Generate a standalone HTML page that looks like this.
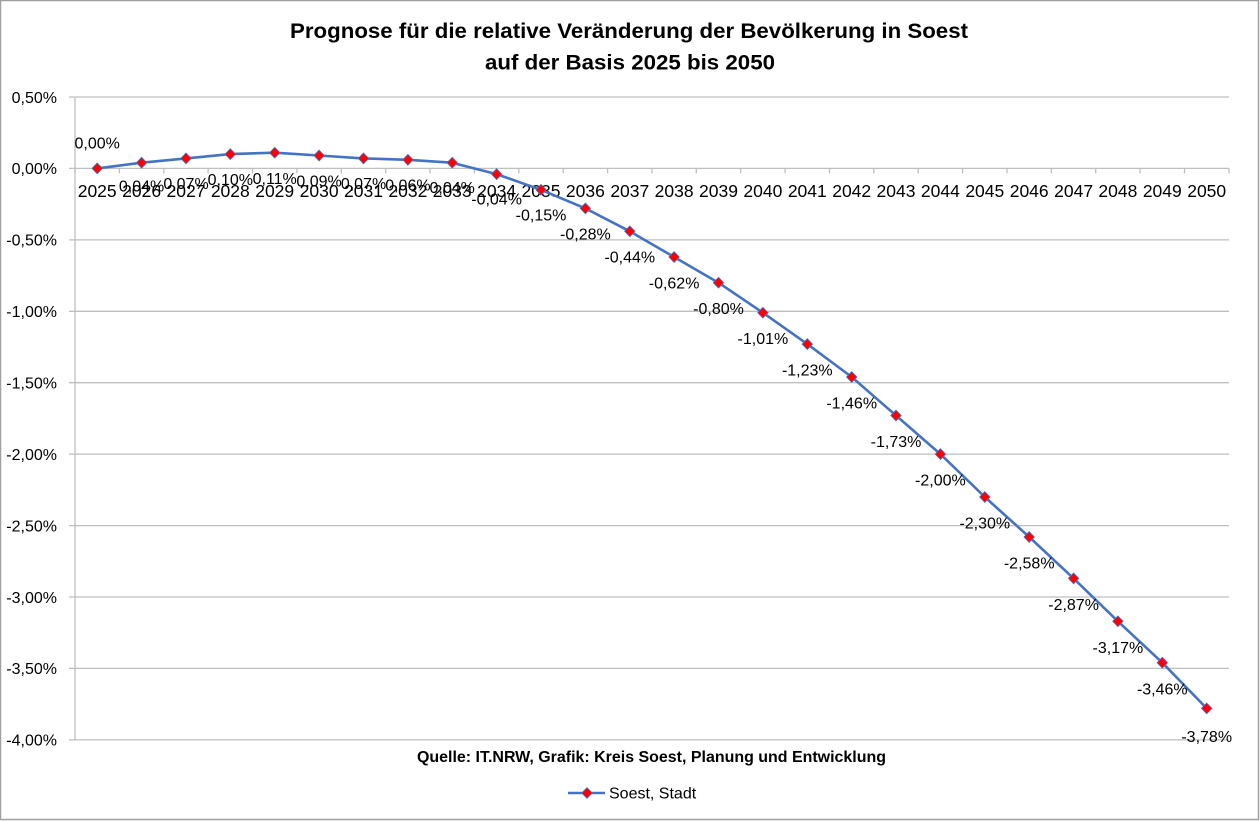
<!DOCTYPE html>
<html><head><meta charset="utf-8"><style>
html,body{margin:0;padding:0;background:#fff;}
svg{display:block;}
text{font-family:"Liberation Sans",Arial,sans-serif;fill:#000;}
</style></head><body>
<svg width="1260" height="821" viewBox="0 0 1260 821" xmlns="http://www.w3.org/2000/svg">
<rect x="0.5" y="0.5" width="1258" height="819" fill="#fff" stroke="#a0a0a0" stroke-width="1.5"/>
<text x="629" y="38" font-size="21" font-weight="bold" text-anchor="middle" textLength="678" lengthAdjust="spacingAndGlyphs">Prognose für die relative Veränderung der Bevölkerung in Soest</text>
<text x="630" y="69.5" font-size="21" font-weight="bold" text-anchor="middle" textLength="290" lengthAdjust="spacingAndGlyphs">auf der Basis 2025 bis 2050</text>
<g stroke="#bfbfbf" stroke-width="1.3" fill="none">
<line x1="69" y1="97" x2="1229" y2="97"/>
<line x1="69" y1="168.4" x2="1229" y2="168.4"/>
<line x1="69" y1="239.9" x2="1229" y2="239.9"/>
<line x1="69" y1="311.3" x2="1229" y2="311.3"/>
<line x1="69" y1="382.7" x2="1229" y2="382.7"/>
<line x1="69" y1="454.1" x2="1229" y2="454.1"/>
<line x1="69" y1="525.6" x2="1229" y2="525.6"/>
<line x1="69" y1="597" x2="1229" y2="597"/>
<line x1="69" y1="668.4" x2="1229" y2="668.4"/>
<line x1="69" y1="739.9" x2="1229" y2="739.9"/>
<line x1="75" y1="97" x2="75" y2="740"/>
<path d="M75 168.4v5M119.4 168.4v5M163.8 168.4v5M208.1 168.4v5M252.5 168.4v5M296.9 168.4v5M341.3 168.4v5M385.7 168.4v5M430 168.4v5M474.4 168.4v5M518.8 168.4v5M563.2 168.4v5M607.6 168.4v5M651.9 168.4v5M696.3 168.4v5M740.7 168.4v5M785.1 168.4v5M829.5 168.4v5M873.8 168.4v5M918.2 168.4v5M962.6 168.4v5M1007 168.4v5M1051.4 168.4v5M1095.7 168.4v5M1140.1 168.4v5M1184.5 168.4v5M1229 168.4v5"/>
</g>
<g font-size="16" text-anchor="end">
<text x="57" y="102.8">0,50%</text>
<text x="57" y="174.2">0,00%</text>
<text x="57" y="245.7">-0,50%</text>
<text x="57" y="317.1">-1,00%</text>
<text x="57" y="388.5">-1,50%</text>
<text x="57" y="459.9">-2,00%</text>
<text x="57" y="531.4">-2,50%</text>
<text x="57" y="602.8">-3,00%</text>
<text x="57" y="674.2">-3,50%</text>
<text x="57" y="745.7">-4,00%</text>
</g>
<g font-size="17.5" text-anchor="middle">
<text x="97.2" y="197">2025</text><text x="141.6" y="197">2026</text><text x="186" y="197">2027</text><text x="230.3" y="197">2028</text><text x="274.7" y="197">2029</text><text x="319.1" y="197">2030</text><text x="363.5" y="197">2031</text><text x="407.9" y="197">2032</text><text x="452.2" y="197">2033</text><text x="496.6" y="197">2034</text><text x="541" y="197">2035</text><text x="585.4" y="197">2036</text><text x="629.8" y="197">2037</text><text x="674.1" y="197">2038</text><text x="718.5" y="197">2039</text><text x="762.9" y="197">2040</text><text x="807.3" y="197">2041</text><text x="851.7" y="197">2042</text><text x="896" y="197">2043</text><text x="940.4" y="197">2044</text><text x="984.8" y="197">2045</text><text x="1029.2" y="197">2046</text><text x="1073.6" y="197">2047</text><text x="1117.9" y="197">2048</text><text x="1162.3" y="197">2049</text><text x="1206.7" y="197">2050</text>
</g>
<polyline fill="none" stroke="#4472c4" stroke-width="2.6" stroke-linejoin="round" points="97.2,168.4 141.6,162.7 186,158.4 230.3,154.1 274.7,152.7 319.1,155.5 363.5,158.4 407.9,159.8 452.2,162.7 496.6,174.1 541,189.8 585.4,208.4 629.8,231.3 674.1,257 718.5,282.7 762.9,312.7 807.3,344.1 851.7,377 896,415.5 940.4,454.1 984.8,497 1029.2,537 1073.6,578.4 1117.9,621.3 1162.3,662.7 1206.7,708.4"/>
<g fill="#ff0000" stroke="#4472c4" stroke-width="0.8">
<path d="M97.2 163l5.2 5.4-5.2 5.4-5.2-5.4z"/>
<path d="M141.6 157.3l5.2 5.4-5.2 5.4-5.2-5.4z"/>
<path d="M186 153l5.2 5.4-5.2 5.4-5.2-5.4z"/>
<path d="M230.3 148.7l5.2 5.4-5.2 5.4-5.2-5.4z"/>
<path d="M274.7 147.3l5.2 5.4-5.2 5.4-5.2-5.4z"/>
<path d="M319.1 150.1l5.2 5.4-5.2 5.4-5.2-5.4z"/>
<path d="M363.5 153l5.2 5.4-5.2 5.4-5.2-5.4z"/>
<path d="M407.9 154.4l5.2 5.4-5.2 5.4-5.2-5.4z"/>
<path d="M452.2 157.3l5.2 5.4-5.2 5.4-5.2-5.4z"/>
<path d="M496.6 168.7l5.2 5.4-5.2 5.4-5.2-5.4z"/>
<path d="M541 184.4l5.2 5.4-5.2 5.4-5.2-5.4z"/>
<path d="M585.4 203l5.2 5.4-5.2 5.4-5.2-5.4z"/>
<path d="M629.8 225.9l5.2 5.4-5.2 5.4-5.2-5.4z"/>
<path d="M674.1 251.6l5.2 5.4-5.2 5.4-5.2-5.4z"/>
<path d="M718.5 277.3l5.2 5.4-5.2 5.4-5.2-5.4z"/>
<path d="M762.9 307.3l5.2 5.4-5.2 5.4-5.2-5.4z"/>
<path d="M807.3 338.7l5.2 5.4-5.2 5.4-5.2-5.4z"/>
<path d="M851.7 371.6l5.2 5.4-5.2 5.4-5.2-5.4z"/>
<path d="M896 410.1l5.2 5.4-5.2 5.4-5.2-5.4z"/>
<path d="M940.4 448.7l5.2 5.4-5.2 5.4-5.2-5.4z"/>
<path d="M984.8 491.6l5.2 5.4-5.2 5.4-5.2-5.4z"/>
<path d="M1029.2 531.6l5.2 5.4-5.2 5.4-5.2-5.4z"/>
<path d="M1073.6 573l5.2 5.4-5.2 5.4-5.2-5.4z"/>
<path d="M1117.9 615.9l5.2 5.4-5.2 5.4-5.2-5.4z"/>
<path d="M1162.3 657.3l5.2 5.4-5.2 5.4-5.2-5.4z"/>
<path d="M1206.7 703l5.2 5.4-5.2 5.4-5.2-5.4z"/>
</g>
<g font-size="16" text-anchor="middle">
<text x="97.2" y="148.5">0,00%</text>
<text x="141.6" y="191.5">0,04%</text>
<text x="186" y="189">0,07%</text>
<text x="230.3" y="185">0,10%</text>
<text x="274.7" y="184">0,11%</text>
<text x="319.1" y="186.5">0,09%</text>
<text x="363.5" y="189">0,07%</text>
<text x="407.9" y="190.5">0,06%</text>
<text x="452.2" y="193">0,04%</text>
<text x="496.6" y="204.5">-0,04%</text>
<text x="541" y="220.5">-0,15%</text>
<text x="585.4" y="239.5">-0,28%</text>
<text x="629.8" y="262.5">-0,44%</text>
<text x="674.1" y="288.5">-0,62%</text>
<text x="718.5" y="314">-0,80%</text>
<text x="762.9" y="344">-1,01%</text>
<text x="807.3" y="375.5">-1,23%</text>
<text x="851.7" y="408.5">-1,46%</text>
<text x="896" y="447">-1,73%</text>
<text x="940.4" y="485.5">-2,00%</text>
<text x="984.8" y="528.5">-2,30%</text>
<text x="1029.2" y="568.5">-2,58%</text>
<text x="1073.6" y="610">-2,87%</text>
<text x="1117.9" y="653">-3,17%</text>
<text x="1162.3" y="694.5">-3,46%</text>
<text x="1206.7" y="742">-3,78%</text>
</g>
<text x="651.5" y="762" font-size="16" font-weight="bold" text-anchor="middle" textLength="469" lengthAdjust="spacingAndGlyphs">Quelle: IT.NRW, Grafik: Kreis Soest, Planung und Entwicklung</text>
<line x1="568" y1="793" x2="605" y2="793" stroke="#4472c4" stroke-width="2.6"/>
<path d="M587 787.6l5.2 5.4-5.2 5.4-5.2-5.4z" fill="#ff0000" stroke="#4472c4" stroke-width="0.8"/>
<text x="609" y="798.5" font-size="16">Soest, Stadt</text>
</svg>
</body></html>
